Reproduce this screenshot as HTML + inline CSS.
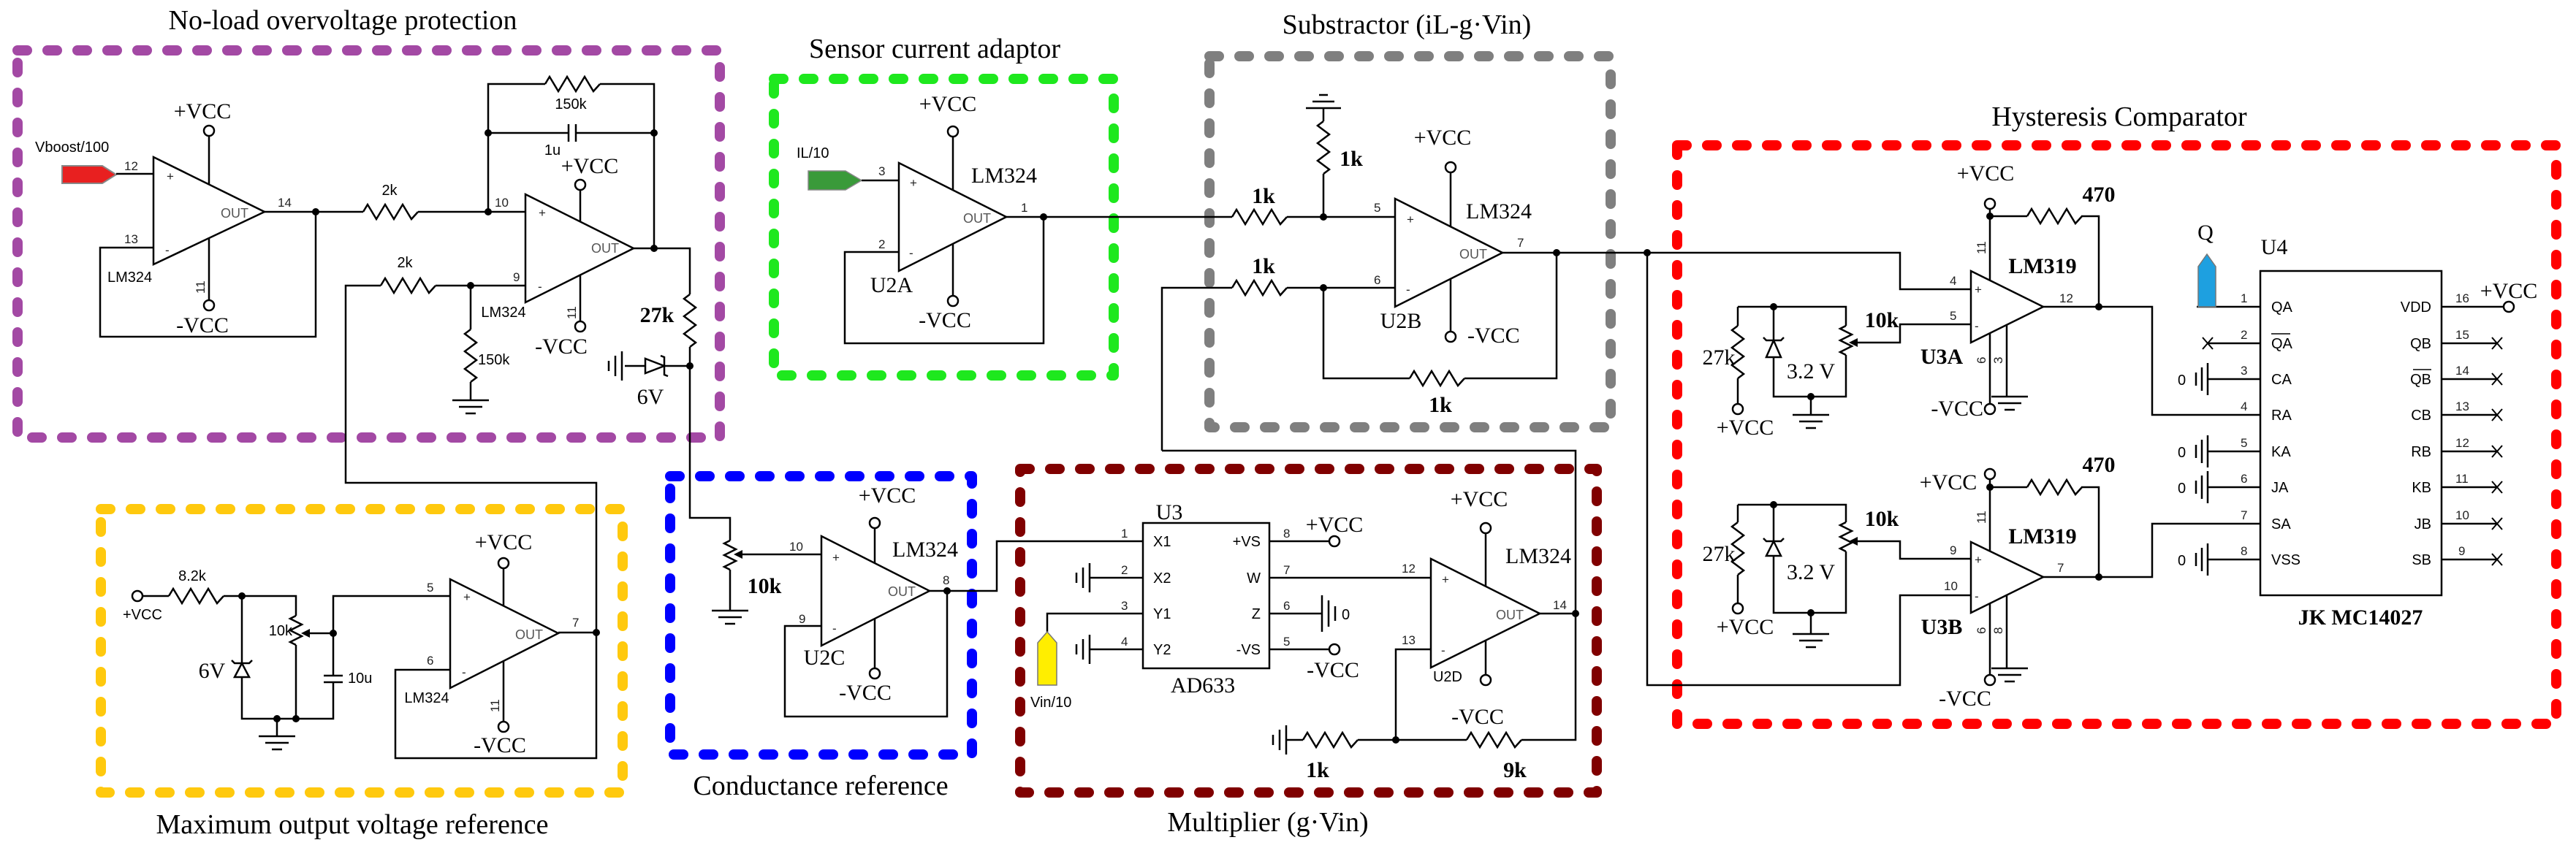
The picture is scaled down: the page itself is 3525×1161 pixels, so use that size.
<!DOCTYPE html>
<html><head><meta charset="utf-8"><style>
html,body{margin:0;padding:0;background:#fff}
svg{display:block}
.w{fill:none;stroke:#000;stroke-width:2.5}
.t{font-family:"Liberation Serif",serif;font-size:30px;fill:#000}
.T{font-family:"Liberation Serif",serif;font-size:38px;fill:#000;text-anchor:middle}
.s{font-family:"Liberation Sans",sans-serif;font-size:20px;fill:#000}
.p{font-family:"Liberation Sans",sans-serif;font-size:17px;fill:#222}
.o{font-family:"Liberation Sans",sans-serif;font-size:18px;fill:#555}
.m{text-anchor:middle}
.e{text-anchor:end}
.bx{fill:none;stroke-width:14;stroke-dasharray:13 28;stroke-linecap:round;stroke-linejoin:round}
</style></head><body>
<svg width="3525" height="1161" viewBox="0 0 3525 1161" xmlns="http://www.w3.org/2000/svg">
<defs>
<path id="rh" d="M0,0 l6,-10 l12,20 l12,-20 l12,20 l12,-20 l12,20 l9,-10" fill="none" stroke="#000" stroke-width="2.5"/>
<path id="rv" d="M0,0 l-8,6 l16,12 l-16,12 l16,12 l-16,12 l16,12 l-8,6" fill="none" stroke="#000" stroke-width="2.5"/>
<path id="pv" d="M0,0 l-8,4 l16,8 l-16,8 l16,8 l-16,8 l8,4" fill="none" stroke="#000" stroke-width="2.5"/>
<g id="gd" stroke="#000" stroke-width="2.5"><path d="M-25,0 H25 M-16,9 H16 M-7,18 H7"/></g>
<g id="gu" stroke="#000" stroke-width="2.5"><path d="M-24,0 H24 M-15,-9 H15 M-6,-18 H6"/></g>
<g id="gl" stroke="#000" stroke-width="2.5"><path d="M0,-20 V20 M-9,-14 V14 M-18,-7 V7"/></g>
<g id="gr" stroke="#000" stroke-width="2.5"><path d="M0,-25 V25 M9,-18 V18 M18,-10 V10"/></g>
<g id="xx" stroke="#000" stroke-width="2"><path d="M-7,-8 L7,8 M-7,8 L7,-8"/></g>
</defs>

<!-- boxes -->
<rect class="bx" stroke="#a349a4" x="24" y="69" width="961" height="530"/>
<rect class="bx" stroke="#1ee81e" x="1059" y="108" width="465" height="406"/>
<rect class="bx" stroke="#7f7f7f" x="1655" y="77" width="549" height="508"/>
<rect class="bx" stroke="#ff0000" x="2295" y="199" width="1203" height="792"/>
<rect class="bx" stroke="#ffc90e" x="138" y="697" width="714" height="388"/>
<rect class="bx" stroke="#0000ff" x="917" y="652" width="413" height="381"/>
<rect class="bx" stroke="#800000" x="1396" y="642" width="789" height="443"/>

<!-- titles -->
<text class="T" x="469" y="40">No-load overvoltage protection</text>
<text class="T" x="1279" y="79">Sensor current adaptor</text>
<text class="T" x="1925" y="46">Substractor (iL-g·Vin)</text>
<text class="T" x="2900" y="172">Hysteresis Comparator</text>
<text class="T" x="482" y="1141">Maximum output voltage reference</text>
<text class="T" x="1123" y="1088">Conductance reference</text>
<text class="T" x="1735" y="1138">Multiplier (g·Vin)</text>

<!-- ===== PURPLE ===== -->
<polygon points="85,227 140,227 159,239 140,251 85,251" fill="#e82020" stroke="#888" stroke-width="2"/>
<text class="s" x="48" y="208">Vboost/100</text>
<path class="w" d="M159,238 H210"/>
<polygon class="w" points="210,215 362,290 210,362" stroke-width="3"/>
<path class="w" d="M286,186 V252 M286,325 V411"/>
<circle cx="286" cy="179" r="7" class="w"/><circle cx="286" cy="418" r="7" class="w"/>
<text class="t m" x="277" y="162">+VCC</text><text class="t m" x="277" y="455">-VCC</text>
<text class="p" x="170" y="233">12</text><text class="p" x="170" y="333">13</text>
<text class="p" x="228" y="247">+</text><text class="p" x="226" y="348">-</text>
<text class="o" x="302" y="298">OUT</text>
<text class="s" x="147" y="386">LM324</text>
<text class="p" transform="translate(280,402) rotate(-90)">11</text>
<path class="w" d="M362,290 H497 M572,290 H719 M432,290 V461 H137 V339 H210"/>
<use href="#rh" x="497" y="290"/>
<text class="s m" x="533" y="267">2k</text>
<text class="p" x="380" y="283">14</text><text class="p" x="677" y="283">10</text>
<polygon class="w" points="719,266 867,340 719,414" stroke-width="3"/>
<text class="p" x="737" y="297">+</text><text class="p" x="736" y="398">-</text>
<text class="o" x="809" y="346">OUT</text>
<text class="p" x="702" y="385">9</text>
<path class="w" d="M794,260 V304 M794,377 V440"/>
<circle cx="794" cy="253" r="7" class="w"/><circle cx="794" cy="447" r="7" class="w"/>
<text class="t m" x="807" y="237">+VCC</text><text class="t m" x="768" y="484">-VCC</text>
<text class="s m" x="689" y="434">LM324</text>
<text class="p" transform="translate(788,437) rotate(-90)">11</text>
<path class="w" d="M668,290 V115 H746 M821,115 H895 V340 M668,182 H778 M788,182 H895 M778,170 V194 M788,170 V194"/>
<use href="#rh" x="746" y="115"/>
<text class="s m" x="781" y="149">150k</text><text class="s m" x="756" y="212">1u</text>
<path class="w" d="M867,340 H944 V403 M944,475 V709 H999 V740 M999,780 V836"/>
<use href="#rv" x="944" y="403"/>
<text class="t m" x="899" y="441" font-weight="bold">27k</text>
<path class="w" d="M944,501 H909 M883,501 H855"/>
<polygon class="w" points="883,491 883,511 909,501"/>
<path class="w" d="M904,487 L909,489 V513 L914,515"/>
<use href="#gl" x="851" y="501"/>
<text class="t m" x="890" y="553">6V</text>
<path class="w" d="M719,391 H596 M521,391 H473 V661 H816 V866 M644,391 V451 M644,523 V548"/>
<use href="#rh" x="521" y="391"/>
<use href="#rv" x="644" y="451"/>
<use href="#gd" x="644" y="548"/>
<text class="s m" x="554" y="366">2k</text>
<text class="s" x="654" y="499">150k</text>

<!-- ===== YELLOW ===== -->
<circle cx="188" cy="816" r="7" class="w"/>
<text class="s" x="168" y="848">+VCC</text>
<path class="w" d="M195,816 H231 M306,816 H405 V843 M405,883 V984 M331,816 V908 M331,927 V984 H456 V934 M443,934 H469 M443,925 H469 M456,925 V816 H616 M456,867 H420 M379,984 V1008"/>
<use href="#rh" x="231" y="816"/>
<use href="#pv" x="405" y="843"/>
<polygon points="412,867 424,861 424,873" fill="#000"/>
<polygon class="w" points="321,927 341,927 331,908"/>
<path class="w" d="M317,904 L321,908 H341 L345,904"/>
<use href="#gd" x="379" y="1008"/>
<text class="s m" x="263" y="795">8.2k</text>
<text class="s e" x="400" y="870">10k</text>
<text class="t m" x="290" y="928">6V</text>
<text class="s" x="476" y="935">10u</text>
<polygon class="w" points="616,793 764,867 616,942" stroke-width="3"/>
<text class="p" x="634" y="823">+</text><text class="p" x="632" y="926">-</text>
<text class="o" x="705" y="875">OUT</text>
<text class="p" x="584" y="810">5</text><text class="p" x="584" y="910">6</text><text class="p" x="783" y="858">7</text>
<path class="w" d="M616,917 H541 V1038 H816 V866 H764 M689,778 V830 M689,905 V988"/>
<circle cx="689" cy="771" r="7" class="w"/><circle cx="689" cy="995" r="7" class="w"/>
<text class="t m" x="689" y="752">+VCC</text><text class="t m" x="684" y="1030">-VCC</text>
<text class="s m" x="584" y="962">LM324</text>
<text class="p" transform="translate(683,975) rotate(-90)">11</text>

<!-- ===== BLUE ===== -->
<use href="#pv" x="999" y="740"/>
<path class="w" d="M1010,759 H1124"/>
<polygon points="1004,759 1016,753 1016,765" fill="#000"/>
<use href="#gd" x="999" y="836"/>
<text class="t m" x="1046" y="812" font-weight="bold">10k</text>
<polygon class="w" points="1124,734 1272,809 1124,884" stroke-width="3"/>
<text class="p" x="1139" y="769">+</text><text class="p" x="1139" y="866">-</text>
<text class="o" x="1215" y="816">OUT</text>
<text class="p" x="1080" y="754">10</text><text class="p" x="1093" y="853">9</text><text class="p" x="1290" y="800">8</text>
<path class="w" d="M1124,857 H1074 V981 H1296 V809 M1272,809 H1364 V741 H1564 M1197,723 V771 M1197,847 V915"/>
<circle cx="1197" cy="716" r="7" class="w"/><circle cx="1197" cy="922" r="7" class="w"/>
<text class="t m" x="1214" y="688">+VCC</text><text class="t m" x="1184" y="958">-VCC</text>
<text class="t" x="1221" y="762">LM324</text>
<text class="t m" x="1128" y="910">U2C</text>

<!-- ===== GREEN ===== -->
<polygon points="1106,234 1157,234 1179,247 1157,260 1106,260" fill="#3a9a3a" stroke="#888" stroke-width="1.5"/>
<text class="s" x="1090" y="216" font-size="24">IL/10</text>
<path class="w" d="M1179,247 H1230"/>
<polygon class="w" points="1230,223 1377,297 1230,371" stroke-width="3"/>
<text class="p" x="1245" y="256">+</text><text class="p" x="1244" y="352">-</text>
<text class="o" x="1318" y="305">OUT</text>
<text class="p" x="1202" y="240">3</text><text class="p" x="1202" y="340">2</text><text class="p" x="1397" y="290">1</text>
<path class="w" d="M1304,187 V260 M1304,334 V405"/>
<circle cx="1304" cy="180" r="7" class="w"/><circle cx="1304" cy="412" r="7" class="w"/>
<text class="t m" x="1297" y="152">+VCC</text><text class="t m" x="1293" y="448">-VCC</text>
<text class="t" x="1329" y="250">LM324</text>
<text class="t m" x="1220" y="400">U2A</text>
<path class="w" d="M1377,297 H1686 M1761,297 H1909 M1428,297 V470 H1156 V345 H1230"/>
<use href="#rh" x="1686" y="297"/>

<!-- ===== GRAY ===== -->
<text class="t m" x="1729" y="278" font-weight="bold">1k</text>
<path class="w" d="M1811,297 V238 M1811,166 V148"/>
<use href="#rv" x="1811" y="166"/>
<use href="#gu" x="1811" y="148"/>
<text class="t m" x="1849" y="227" font-weight="bold">1k</text>
<polygon class="w" points="1909,272 2056,346 1909,420" stroke-width="3"/>
<text class="p" x="1925" y="306">+</text><text class="p" x="1924" y="402">-</text>
<text class="o" x="1997" y="354">OUT</text>
<text class="p" x="1880" y="290">5</text><text class="p" x="1880" y="389">6</text><text class="p" x="2076" y="338">7</text>
<path class="w" d="M1985,236 V310 M1985,382 V454"/>
<circle cx="1985" cy="229" r="7" class="w"/><circle cx="1985" cy="461" r="7" class="w"/>
<text class="t m" x="1974" y="198">+VCC</text><text class="t" x="2008" y="469">-VCC</text>
<text class="t" x="2006" y="299">LM324</text>
<text class="t m" x="1917" y="449">U2B</text>
<path class="w" d="M2056,346 H2254 H2600 V396 H2697 M2130,346 V518 H2004 M1929,518 H1811 V394 H1909 M1590,617 V394 H1686 M1761,394 H1811 M1590,617 H2156 V840"/>
<use href="#rh" x="1929" y="518"/>
<use href="#rh" x="1686" y="394"/>
<text class="t m" x="1729" y="374" font-weight="bold">1k</text>
<text class="t m" x="1971" y="564" font-weight="bold">1k</text>

<!-- ===== MAROON ===== -->
<rect class="w" x="1564" y="716" width="173" height="199"/>
<text class="t m" x="1600" y="711">U3</text>
<text class="t m" x="1646" y="948">AD633</text>
<g class="s"><text x="1578" y="748">X1</text><text x="1578" y="798">X2</text><text x="1578" y="847">Y1</text><text x="1578" y="896">Y2</text></g>
<g class="s e"><text x="1725" y="748">+VS</text><text x="1725" y="798">W</text><text x="1725" y="847">Z</text><text x="1725" y="896">-VS</text></g>
<g class="p"><text x="1534" y="736">1</text><text x="1534" y="786">2</text><text x="1534" y="835">3</text><text x="1534" y="884">4</text>
<text x="1756" y="736">8</text><text x="1756" y="786">7</text><text x="1756" y="835">6</text><text x="1756" y="884">5</text></g>
<path class="w" d="M1564,791 H1491 M1564,840 H1433 V865 M1564,889 H1491 M1737,741 H1819 M1737,791 H1958 M1737,840 H1809 M1737,889 H1819"/>
<use href="#gl" x="1491" y="791"/><use href="#gl" x="1491" y="889"/>
<use href="#gr" x="1809" y="840"/>
<text class="s" x="1836" y="848">0</text>
<polygon points="1420,938 1420,880 1433,865 1446,880 1446,938" fill="#ffee00" stroke="#777" stroke-width="1.5"/>
<text class="s" x="1410" y="968" font-size="24">Vin/10</text>
<circle cx="1826" cy="741" r="7" class="w"/><circle cx="1826" cy="889" r="7" class="w"/>
<text class="t m" x="1826" y="728">+VCC</text><text class="t m" x="1824" y="927">-VCC</text>
<polygon class="w" points="1958,765 2107,840 1958,914" stroke-width="3"/>
<text class="p" x="1973" y="799">+</text><text class="p" x="1972" y="896">-</text>
<text class="o" x="2047" y="848">OUT</text>
<text class="p" x="1918" y="784">12</text><text class="p" x="1918" y="882">13</text><text class="p" x="2125" y="834">14</text>
<path class="w" d="M2107,840 H2156 M1958,889 H1910 V1013 H1858 M1783,1013 H1760 M1910,1013 H2007 M2082,1013 H2156 V840 M2033,730 V803 M2033,877 V924"/>
<use href="#rh" x="1783" y="1013"/><use href="#rh" x="2007" y="1013"/>
<use href="#gl" x="1760" y="1013"/>
<circle cx="2033" cy="723" r="7" class="w"/><circle cx="2033" cy="931" r="7" class="w"/>
<text class="t m" x="2024" y="693">+VCC</text><text class="t m" x="2022" y="991">-VCC</text>
<text class="t m" x="2105" y="771">LM324</text>
<text class="s m" x="1981" y="933">U2D</text>
<text class="t m" x="1803" y="1064" font-weight="bold">1k</text><text class="t m" x="2073" y="1064" font-weight="bold">9k</text>

<!-- ===== RED ===== -->
<path class="w" d="M2254,346 V938 H2600 V815 H2697"/>
<polygon class="w" points="2697,371 2796,420 2697,469" stroke-width="3"/>
<polygon class="w" points="2697,742 2796,790 2697,839" stroke-width="3"/>
<text class="p" x="2702" y="402">+</text><text class="p" x="2702" y="452">-</text>
<text class="p" x="2702" y="772">+</text><text class="p" x="2702" y="822">-</text>
<path class="w" d="M2723,286 V384 M2723,296 H2774 M2848,296 H2872 V420 M2796,420 H2945 V568 H3093 M2723,456 V553 M2746,445 V543"/>
<use href="#rh" x="2774" y="296"/>
<circle cx="2723" cy="279" r="7" class="w"/><circle cx="2723" cy="560" r="7" class="w"/>
<use href="#gd" x="2750" y="543"/>
<path class="w" d="M2723,656 V755 M2723,667 H2774 M2848,667 H2872 V790 M2796,790 H2945 V717 H3093 M2723,826 V924 M2746,815 V915"/>
<use href="#rh" x="2774" y="667"/>
<circle cx="2723" cy="649" r="7" class="w"/><circle cx="2723" cy="931" r="7" class="w"/>
<use href="#gd" x="2750" y="915"/>
<text class="t m" x="2717" y="247">+VCC</text><text class="t m" x="2666" y="670">+VCC</text>
<text class="t e" x="2714" y="569">-VCC</text><text class="t m" x="2689" y="966">-VCC</text>
<text class="t m" x="2872" y="276" font-weight="bold">470</text><text class="t m" x="2872" y="646" font-weight="bold">470</text>
<text class="t m" x="2795" y="374" font-weight="bold">LM319</text><text class="t m" x="2795" y="744" font-weight="bold">LM319</text>
<text class="t m" x="2657" y="498" font-weight="bold">U3A</text><text class="t m" x="2657" y="868" font-weight="bold">U3B</text>
<g class="p"><text x="2668" y="390">4</text><text x="2668" y="438">5</text><text x="2818" y="414">12</text>
<text x="2668" y="759">9</text><text x="2660" y="808">10</text><text x="2815" y="783">7</text></g>
<text class="p" transform="translate(2717,348) rotate(-90)">11</text>
<text class="p" transform="translate(2717,717) rotate(-90)">11</text>
<text class="p" transform="translate(2717,498) rotate(-90)">6</text>
<text class="p" transform="translate(2740,498) rotate(-90)">3</text>
<text class="p" transform="translate(2717,868) rotate(-90)">6</text>
<text class="p" transform="translate(2740,868) rotate(-90)">8</text>
<!-- network A -->
<path class="w" d="M2378,420 H2526 V446 M2378,420 V446 M2378,518 V553 M2427,420 V466 M2427,489 V543 H2526 V486 M2478,543 V568 M2697,444 H2600 V469 H2540"/>
<use href="#rv" x="2378" y="446"/><use href="#pv" x="2526" y="446"/>
<polygon class="w" points="2417,489 2437,489 2427,466"/>
<path class="w" d="M2413,462 L2417,466 H2437 L2441,462"/>
<polygon points="2530,469 2542,463 2542,475" fill="#000"/>
<circle cx="2378" cy="560" r="7" class="w"/>
<use href="#gd" x="2478" y="568"/>
<text class="t m" x="2352" y="499">27k</text><text class="t m" x="2478" y="518">3.2 V</text>
<text class="t m" x="2575" y="448" font-weight="bold">10k</text><text class="t m" x="2388" y="595">+VCC</text>
<!-- network B -->
<path class="w" d="M2378,691 H2526 V715 M2378,691 V715 M2378,787 V826 M2427,691 V741 M2427,761 V839 H2526 V755 M2478,839 V868 M2697,765 H2600 V741 H2540"/>
<use href="#rv" x="2378" y="715"/><use href="#pv" x="2526" y="715"/>
<polygon class="w" points="2417,761 2437,761 2427,741"/>
<path class="w" d="M2413,737 L2417,741 H2437 L2441,737"/>
<polygon points="2530,741 2542,735 2542,747" fill="#000"/>
<circle cx="2378" cy="833" r="7" class="w"/>
<use href="#gd" x="2478" y="868"/>
<text class="t m" x="2352" y="768">27k</text><text class="t m" x="2478" y="793">3.2 V</text>
<text class="t m" x="2575" y="720" font-weight="bold">10k</text><text class="t m" x="2388" y="868">+VCC</text>
<!-- U4 -->
<rect class="w" x="3093" y="371" width="248" height="444"/>
<text class="t m" x="3112" y="348">U4</text>
<text class="t m" x="3230" y="855" font-weight="bold">JK MC14027</text>
<g class="s"><text x="3108" y="427">QA</text><text x="3108" y="477">QA</text><text x="3108" y="526">CA</text><text x="3108" y="575">RA</text>
<text x="3108" y="625">KA</text><text x="3108" y="674">JA</text><text x="3108" y="724">SA</text><text x="3108" y="773">VSS</text></g>
<path d="M3108,457 H3134" stroke="#000" stroke-width="1.5"/>
<g class="s e"><text x="3327" y="427">VDD</text><text x="3327" y="477">QB</text><text x="3327" y="526">QB</text><text x="3327" y="575">CB</text>
<text x="3327" y="625">RB</text><text x="3327" y="674">KB</text><text x="3327" y="724">JB</text><text x="3327" y="773">SB</text></g>
<path d="M3302,506 H3327" stroke="#000" stroke-width="1.5"/>
<g class="p"><text x="3066" y="414">1</text><text x="3066" y="464">2</text><text x="3066" y="513">3</text><text x="3066" y="562">4</text>
<text x="3066" y="612">5</text><text x="3066" y="661">6</text><text x="3066" y="711">7</text><text x="3066" y="760">8</text>
<text x="3360" y="414">16</text><text x="3360" y="464">15</text><text x="3360" y="513">14</text><text x="3360" y="562">13</text>
<text x="3360" y="612">12</text><text x="3360" y="661">11</text><text x="3360" y="711">10</text><text x="3364" y="760">9</text></g>
<path class="w" d="M3006,420 H3093 M3021,470 H3093 M3021,519 H3093 M3021,618 H3093 M3021,667 H3093 M3021,766 H3093
M3341,420 H3426 M3341,470 H3417 M3341,519 H3417 M3341,568 H3417 M3341,618 H3417 M3341,667 H3417 M3341,717 H3417 M3341,766 H3417"/>
<circle cx="3433" cy="420" r="7" class="w"/>
<text class="t m" x="3433" y="408">+VCC</text>
<use href="#xx" x="3021" y="470"/>
<use href="#xx" x="3417" y="470"/><use href="#xx" x="3417" y="519"/><use href="#xx" x="3417" y="568"/><use href="#xx" x="3417" y="618"/>
<use href="#xx" x="3417" y="667"/><use href="#xx" x="3417" y="717"/><use href="#xx" x="3417" y="766"/>
<g stroke="#000" stroke-width="2.5"><path d="M3021,497 V541 M3013,503 V535 M3005,510 V528 M3021,596 V640 M3013,602 V634 M3005,609 V627 M3021,645 V689 M3013,651 V683 M3005,658 V676 M3021,744 V788 M3013,750 V782 M3005,757 V775"/></g>
<g class="s"><text x="2980" y="527">0</text><text x="2980" y="626">0</text><text x="2980" y="675">0</text><text x="2980" y="774">0</text></g>
<polygon points="3008,420 3008,365 3020,348 3032,365 3032,420" fill="#1ea0e0" stroke="#777" stroke-width="1.5"/>
<text class="t m" x="3018" y="328">Q</text>

<!-- node dots -->
<g fill="#000">
<circle cx="432" cy="290" r="5"/><circle cx="668" cy="290" r="5"/><circle cx="668" cy="182" r="5"/><circle cx="895" cy="182" r="5"/>
<circle cx="895" cy="340" r="5"/><circle cx="944" cy="501" r="5"/><circle cx="644" cy="391" r="5"/>
<circle cx="331" cy="816" r="5"/><circle cx="456" cy="867" r="5"/><circle cx="379" cy="984" r="5"/><circle cx="405" cy="984" r="5"/><circle cx="816" cy="866" r="5"/>
<circle cx="1296" cy="809" r="5"/><circle cx="1428" cy="297" r="5"/><circle cx="1811" cy="297" r="5"/><circle cx="1811" cy="394" r="5"/>
<circle cx="2130" cy="346" r="5"/><circle cx="2254" cy="346" r="5"/><circle cx="2156" cy="840" r="5"/><circle cx="1910" cy="1013" r="5"/>
<circle cx="2872" cy="420" r="5"/><circle cx="2723" cy="296" r="5"/><circle cx="2872" cy="790" r="5"/><circle cx="2723" cy="667" r="5"/>
<circle cx="2427" cy="420" r="5"/><circle cx="2478" cy="543" r="5"/><circle cx="2427" cy="691" r="5"/><circle cx="2478" cy="839" r="5"/>
</g>
</svg>
</body></html>
